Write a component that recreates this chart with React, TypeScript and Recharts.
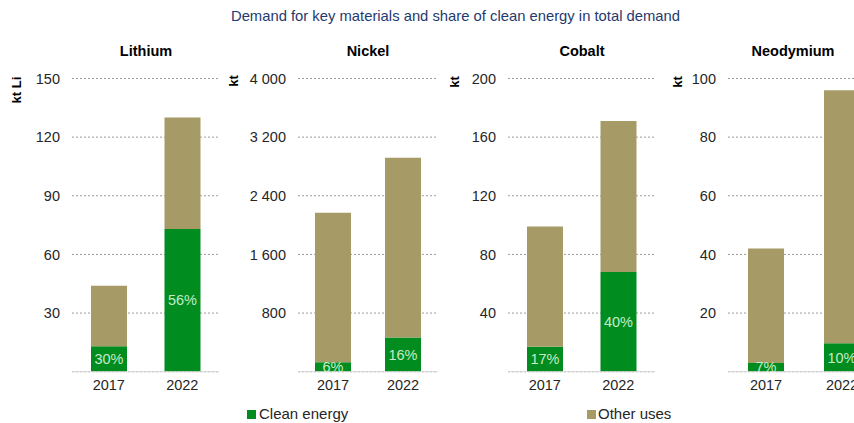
import React from 'react';
import { BarChart, Bar, XAxis, YAxis, CartesianGrid, LabelList } from 'recharts';

const years = ['2017', '2022'];

const lithiumClean = [13, 73];
const lithiumOther = [31, 57];
const lithiumPct = [30, 56];
const lithiumTicks = [30, 60, 90, 120, 150];

const nickelClean = [130, 467];
const nickelOther = [2040, 2453];
const nickelPct = [6, 16];
const nickelTicks = [800, 1600, 2400, 3200, 4000];

const cobaltClean = [17, 68];
const cobaltOther = [82, 103];
const cobaltPct = [17, 40];
const cobaltTicks = [40, 80, 120, 160, 200];

const neoClean = [3, 9.7];
const neoOther = [39, 86.3];
const neoPct = [7, 10];
const neoTicks = [20, 40, 60, 80, 100];

const GREEN = '#008c1f';
const TAN = '#a69b66';
const FONT = '"Liberation Sans", Arial, sans-serif';
const FS = 14.5;

const build = (clean: number[], other: number[], pct: number[]) =>
  years.map((y, i) => ({ year: y, clean: clean[i], other: other[i], pct: pct[i] }));

const fmt = (v: number) => {
  const s = String(v);
  return s.length > 3 ? s.slice(0, s.length - 3) + ' ' + s.slice(s.length - 3) : s;
};

const PLOT_TOP = 78.5;
const PLOT_H = 293.2;
const AXIS_W = 70;

type PanelProps = {
  title: string;
  unit: string;
  data: any[];
  ticks: number[];
  plotLeft: number;
  plotRight: number;
  titleX: number;
  unitX: number;
  unitY: number;
};

const Panel = ({ title, unit, data, ticks, plotLeft, plotRight, titleX, unitX, unitY }: PanelProps) => {
  const width = AXIS_W + (plotRight - plotLeft);
  const height = PLOT_TOP + PLOT_H + 32;
  return (
    <>
      <div style={{ position: 'absolute', left: plotLeft - AXIS_W, top: 0 }}>
        <BarChart
          width={width}
          height={height}
          data={data}
          margin={{ top: PLOT_TOP, right: 0, left: 0, bottom: 0 }}
          barSize={36}
        >
          <CartesianGrid vertical={false} stroke="#9a9a9a" strokeDasharray="2 2" />
          <XAxis
            dataKey="year"
            axisLine={{ stroke: '#d9d9d9' }}
            tickLine={false}
            tick={{ fontSize: FS, fill: '#262626', fontFamily: FONT }}
            height={32}
          />
          <YAxis
            width={AXIS_W}
            domain={[0, ticks[ticks.length - 1]]}
            ticks={ticks}
            axisLine={false}
            tickLine={false}
            tickFormatter={fmt}
            tick={{ fontSize: FS, fill: '#262626', fontFamily: FONT }}
            tickMargin={6}
          />
          <Bar dataKey="clean" stackId="a" fill={GREEN} isAnimationActive={false}>
            <LabelList
              dataKey="pct"
              position="center"
              formatter={(v: any) => `${v}%`}
              fill="#c4ebc8"
              fontSize={FS}
              fontFamily={FONT}
            />
          </Bar>
          <Bar dataKey="other" stackId="a" fill={TAN} isAnimationActive={false} />
        </BarChart>
      </div>
      <div
        style={{
          position: 'absolute',
          left: titleX - 70,
          width: 140,
          top: 43,
          textAlign: 'center',
          fontWeight: 'bold',
          fontSize: FS,
          color: '#000',
        }}
      >
        {title}
      </div>
      <svg style={{ position: 'absolute', left: 0, top: 0, overflow: 'visible' }} width={1} height={1}>
        <text
          x={unitX}
          y={unitY}
          transform={`rotate(-90 ${unitX} ${unitY})`}
          textAnchor="middle"
          dominantBaseline="central"
          fontWeight="bold"
          fontSize={13}
          fontFamily={FONT}
          fill="#000"
        >
          {unit}
        </text>
      </svg>
    </>
  );
};

export default function App() {
  return (
    <div
      style={{
        position: 'absolute',
        left: 0,
        top: 0,
        width: 854,
        height: 423,
        overflow: 'hidden',
        background: '#fff',
        fontFamily: FONT,
      }}
    >
      <div
        style={{
          position: 'absolute',
          left: 0,
          width: 911,
          top: 8,
          textAlign: 'center',
          fontSize: 14.8,
          color: '#1f3a6e',
        }}
      >
        Demand for key materials and share of clean energy in total demand
      </div>
      <Panel
        title="Lithium"
        unit="kt Li"
        data={build(lithiumClean, lithiumOther, lithiumPct)}
        ticks={lithiumTicks}
        plotLeft={72}
        plotRight={219}
        titleX={146}
        unitX={16}
        unitY={90}
      />
      <Panel
        title="Nickel"
        unit="kt"
        data={build(nickelClean, nickelOther, nickelPct)}
        ticks={nickelTicks}
        plotLeft={298}
        plotRight={438}
        titleX={368}
        unitX={233}
        unitY={81}
      />
      <Panel
        title="Cobalt"
        unit="kt"
        data={build(cobaltClean, cobaltOther, cobaltPct)}
        ticks={cobaltTicks}
        plotLeft={508}
        plotRight={655}
        titleX={582}
        unitX={454}
        unitY={82}
      />
      <Panel
        title="Neodymium"
        unit="kt"
        data={build(neoClean, neoOther, neoPct)}
        ticks={neoTicks}
        plotLeft={728}
        plotRight={880}
        titleX={793}
        unitX={677}
        unitY={82}
      />
      <div style={{ position: 'absolute', left: 247, top: 410, width: 9, height: 9, background: GREEN }} />
      <div style={{ position: 'absolute', left: 259, top: 405, fontSize: 15, color: '#262626' }}>Clean energy</div>
      <div style={{ position: 'absolute', left: 587, top: 410, width: 9, height: 9, background: TAN }} />
      <div style={{ position: 'absolute', left: 598, top: 405, fontSize: 15, color: '#262626' }}>Other uses</div>
    </div>
  );
}
